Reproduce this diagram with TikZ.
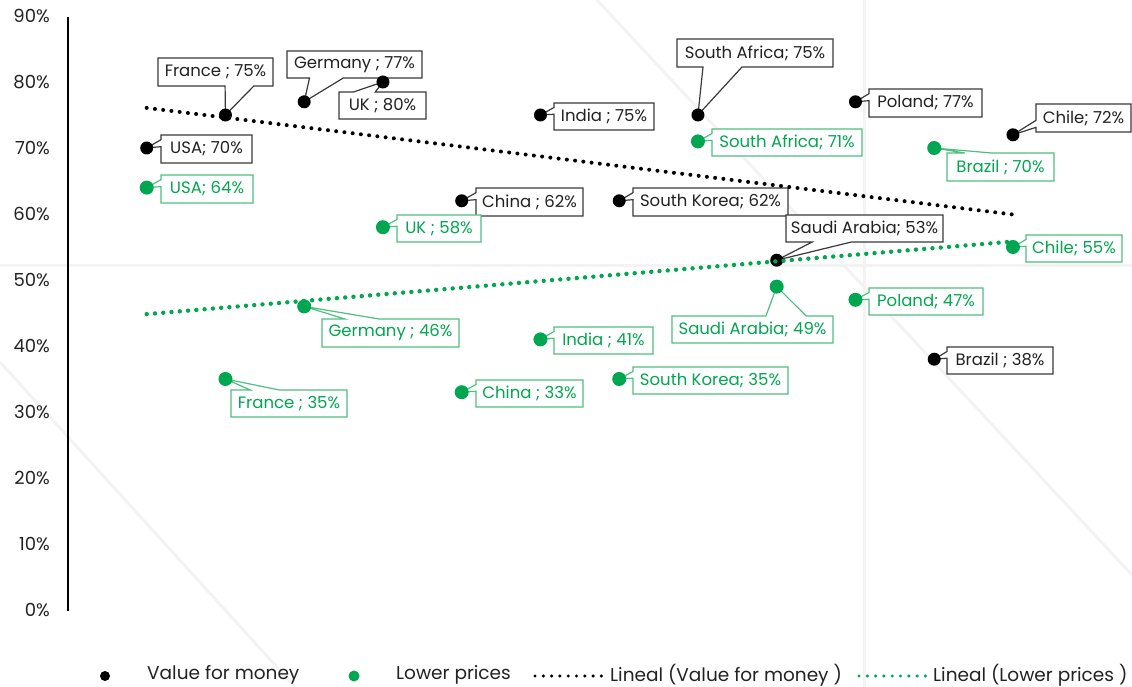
\documentclass[tikz,border=0pt]{standalone}
\usepackage{fontspec}
\setmainfont{Poppins}
\usetikzlibrary{calc}
\pgfdeclarelayer{wm}
\pgfdeclarelayer{shp}
\pgfsetlayers{wm,shp,main}
\definecolor{gr}{HTML}{00A650}
\definecolor{grb}{HTML}{4FBF80}
\definecolor{txt}{HTML}{222222}
\definecolor{bxb}{HTML}{3A3A3A}
\definecolor{wmc}{HTML}{F3F3F3}
\newcommand\lbl[7]{\node[#1, minimum width={#5-#3}, minimum height={#6-#4}] (#2) at ({(#3+#5)/2},{(#4+#6)/2}) {#7};}
\newcommand\cwL[5]{\draw[#1] (#2.north west) -- (#2.north east) -- (#2.south east) -- (#2.south west) -- ($(#2.north west)!#5!(#2.south west)$) -- (#3.center) -- ($(#2.north west)!#4!(#2.south west)$) -- cycle;}
\newcommand\cwB[5]{\draw[#1] (#2.north west) -- (#2.north east) -- (#2.south east) -- ($(#2.south west)!#5!(#2.south east)$) -- (#3.center) -- ($(#2.south west)!#4!(#2.south east)$) -- (#2.south west) -- cycle;}
\newcommand\cwT[5]{\draw[#1] (#2.north west) -- ($(#2.north west)!#4!(#2.north east)$) -- (#3.center) -- ($(#2.north west)!#5!(#2.north east)$) -- (#2.north east) -- (#2.south east) -- (#2.south west) -- cycle;}
\begin{document}
\begin{tikzpicture}[x=1pt,y=-1pt,
  fnt/.style={font=\fontsize{16.5}{19}\selectfont},
  lab/.style={fnt, rectangle, inner sep=0pt, outer sep=0pt},
  lblk/.style={lab, text=txt},
  lgrn/.style={lab, text=gr},
  cblk/.style={draw=bxb, fill=white, line width=1.2pt, line join=miter},
  cgrn/.style={draw=grb, fill=white, line width=1.2pt, line join=miter},
  dblk/.style={circle, fill=black, inner sep=0pt, minimum size=13pt},
  dgrn/.style={circle, fill=gr, inner sep=0pt, minimum size=14pt},
  trendb/.style={black, line width=4pt, line cap=round, dash pattern=on 0pt off 8.3pt},
  trendg/.style={gr, line width=4.4pt, line cap=round, dash pattern=on 0pt off 8.3pt},
  axl/.style={font=\fontsize{18}{21}\selectfont, text=txt, anchor=east, inner sep=0pt},
  wml/.style={wmc, line width=3pt},
  legt/.style={font=\fontsize{18.5}{21}\selectfont, text=txt, anchor=west, inner sep=0pt}]
\useasboundingbox (0,0) rectangle (1132,687);
% watermark
\begin{pgfonlayer}{wm}
\fill[white] (0,0) rectangle (1132,687);
\coordinate (w1a) at (864,0); \coordinate (w1b) at (864,687);
\coordinate (w2a) at (0,265); \coordinate (w2b) at (1132,265);
\coordinate (w3a) at (0,362); \coordinate (w3b) at (295,687);
\coordinate (w4a) at (597,0); \coordinate (w4b) at (1132,575);
\draw[wml] (w1a) -- (w1b);
\draw[wml] (w2a) -- (w2b);
\draw[wml] (w3a) -- (w3b);
\draw[wml] (w4a) -- (w4b);
\end{pgfonlayer}
% axis
\coordinate (ax0) at (68,611); \coordinate (ax1) at (68,17);
\draw[line width=2pt] (ax0) -- (ax1);
\foreach \v in {0,10,...,90} {\node[axl] (a\v) at (50,{610-6.6*\v}) {\v\%};}
% dots value for money
\node[dblk] (dUSAb) at ({146.7+78.75*0},{610-6.6*70}) {};
\node[dblk] (dFRb) at ({146.7+78.75*1},{610-6.6*75}) {};
\node[dblk] (dDEb) at ({146.7+78.75*2},{610-6.6*77}) {};
\node[dblk] (dUKb) at ({146.7+78.75*3},{610-6.6*80}) {};
\node[dblk] (dCNb) at ({146.7+78.75*4},{610-6.6*62}) {};
\node[dblk] (dINb) at ({146.7+78.75*5},{610-6.6*75}) {};
\node[dblk] (dKRb) at ({146.7+78.75*6},{610-6.6*62}) {};
\node[dblk] (dZAb) at ({146.7+78.75*7},{610-6.6*75}) {};
\node[dblk] (dSAb) at ({146.7+78.75*8},{610-6.6*53}) {};
\node[dblk] (dPLb) at ({146.7+78.75*9},{610-6.6*77}) {};
\node[dblk] (dBRb) at ({146.7+78.75*10},{610-6.6*38}) {};
\node[dblk] (dCLb) at ({146.7+78.75*11},{610-6.6*72}) {};
% dots lower prices
\node[dgrn] (dUSAg) at ({146.7+78.75*0},{610-6.6*64}) {};
\node[dgrn] (dFRg) at ({146.7+78.75*1},{610-6.6*35}) {};
\node[dgrn] (dDEg) at ({146.7+78.75*2},{610-6.6*46}) {};
\node[dgrn] (dUKg) at ({146.7+78.75*3},{610-6.6*58}) {};
\node[dgrn] (dCNg) at ({146.7+78.75*4},{610-6.6*33}) {};
\node[dgrn] (dINg) at ({146.7+78.75*5},{610-6.6*41}) {};
\node[dgrn] (dKRg) at ({146.7+78.75*6},{610-6.6*35}) {};
\node[dgrn] (dZAg) at ({146.7+78.75*7},{610-6.6*71}) {};
\node[dgrn] (dSAg) at ({146.7+78.75*8},{610-6.6*49}) {};
\node[dgrn] (dPLg) at ({146.7+78.75*9},{610-6.6*47}) {};
\node[dgrn] (dBRg) at ({146.7+78.75*10},{610-6.6*70}) {};
\node[dgrn] (dCLg) at ({146.7+78.75*11},{610-6.6*55}) {};
% labels
\lbl{lblk}{lUSAb}{161}{135}{252}{163}{USA; 70\%}
\lbl{lblk}{lFRb}{158}{58}{273}{86}{France ; 75\%}
\lbl{lblk}{lDEb}{287}{51}{422}{78}{Germany ; 77\%}
\lbl{lblk}{lUKb}{339}{92}{426}{119}{UK ; 80\%}
\lbl{lblk}{lCNb}{476}{188}{583}{216}{China ; 62\%}
\lbl{lblk}{lINb}{554}{103}{654}{130}{India ; 75\%}
\lbl{lblk}{lKRb}{633}{188}{788}{216}{South Korea; 62\%}
\lbl{lblk}{lZAb}{677}{39}{833}{67}{South Africa; 75\%}
\lbl{lblk}{lSAb}{786}{215}{943}{242}{Saudi Arabia; 53\%}
\lbl{lblk}{lPLb}{869}{89}{982}{117}{Poland; 77\%}
\lbl{lblk}{lBRb}{947}{347}{1053}{374}{Brazil ; 38\%}
\lbl{lblk}{lCLb}{1036}{104}{1131}{132}{Chile; 72\%}
\lbl{lgrn}{lUSAg}{161}{175}{253}{203}{USA; 64\%}
\lbl{lgrn}{lFRg}{231}{390}{347}{417}{France ; 35\%}
\lbl{lgrn}{lDEg}{322}{319}{459}{347}{Germany ; 46\%}
\lbl{lgrn}{lUKg}{397}{215}{481}{242}{UK ; 58\%}
\lbl{lgrn}{lCNg}{476}{380}{583}{407}{China ; 33\%}
\lbl{lgrn}{lINg}{554}{327}{653}{354}{India ; 41\%}
\lbl{lgrn}{lKRg}{633}{367}{788}{394}{South Korea; 35\%}
\lbl{lgrn}{lZAg}{712}{129}{862}{156}{South Africa; 71\%}
\lbl{lgrn}{lSAg}{672}{316}{833}{343}{Saudi Arabia; 49\%}
\lbl{lgrn}{lPLg}{869}{288}{983}{315}{Poland; 47\%}
\lbl{lgrn}{lBRg}{947}{153}{1054}{181}{Brazil ; 70\%}
\lbl{lgrn}{lCLg}{1026}{235}{1122}{262}{Chile; 55\%}
% callout shapes
\begin{pgfonlayer}{shp}
\cwL{cblk}{lUSAb}{dUSAb}{0.1667}{0.4167}
\cwB{cblk}{lFRb}{dFRb}{0.5833}{0.8333}
\cwB{cblk}{lDEb}{dDEb}{0.1667}{0.4167}
\cwT{cblk}{lUKb}{dUKb}{0.1667}{0.4167}
\cwL{cblk}{lCNb}{dCNb}{0.1667}{0.4167}
\cwL{cblk}{lINb}{dINb}{0.1667}{0.4167}
\cwL{cblk}{lKRb}{dKRb}{0.1667}{0.4167}
\cwB{cblk}{lZAb}{dZAb}{0.1667}{0.4167}
\cwB{cblk}{lSAb}{dSAb}{0.1667}{0.4167}
\cwL{cblk}{lPLb}{dPLb}{0.1667}{0.4167}
\cwL{cblk}{lBRb}{dBRb}{0.1667}{0.4167}
\cwL{cblk}{lCLb}{dCLb}{0.5833}{0.8333}
\cwL{cgrn}{lUSAg}{dUSAg}{0.1667}{0.4167}
\cwT{cgrn}{lFRg}{dFRg}{0.1667}{0.4167}
\cwT{cgrn}{lDEg}{dDEg}{0.1667}{0.4167}
\cwL{cgrn}{lUKg}{dUKg}{0.1667}{0.4167}
\cwL{cgrn}{lCNg}{dCNg}{0.1667}{0.4167}
\cwL{cgrn}{lINg}{dINg}{0.1667}{0.4167}
\cwL{cgrn}{lKRg}{dKRg}{0.1667}{0.4167}
\cwL{cgrn}{lZAg}{dZAg}{0.1667}{0.4167}
\cwT{cgrn}{lSAg}{dSAg}{0.5833}{0.8333}
\cwL{cgrn}{lPLg}{dPLg}{0.1667}{0.4167}
\cwT{cgrn}{lBRg}{dBRg}{0.1667}{0.4167}
\cwL{cgrn}{lCLg}{dCLg}{0.1667}{0.4167}
\end{pgfonlayer}
% trend lines
\coordinate (tb1) at (146.7,107.9); \coordinate (tb2) at (1012.9,214.5);
\coordinate (tg1) at (146.7,314.1); \coordinate (tg2) at (1012.9,241.5);
\draw[trendb] (tb1) -- (tb2);
\draw[trendg] (tg1) -- (tg2);
% legend
\node[dblk, minimum size=10pt] (lgd1) at (105,676) {};
\node[legt] (lgt1) at (147,675) {Value for money};
\node[dgrn, minimum size=11pt] (lgd2) at (354,676) {};
\node[legt] (lgt2) at (396,675) {Lower prices};
\coordinate (lgs1a) at (535,676); \coordinate (lgs1b) at (604,676);
\draw[trendb, line width=3.4pt] (lgs1a) -- (lgs1b);
\node[legt] (lgt3) at (610,675) {Lineal (Value for money )};
\coordinate (lgs2a) at (859,676); \coordinate (lgs2b) at (927,676);
\draw[trendg, line width=3.4pt] (lgs2a) -- (lgs2b);
\node[legt] (lgt4) at (933,675) {Lineal (Lower prices )};
\end{tikzpicture}
\end{document}
